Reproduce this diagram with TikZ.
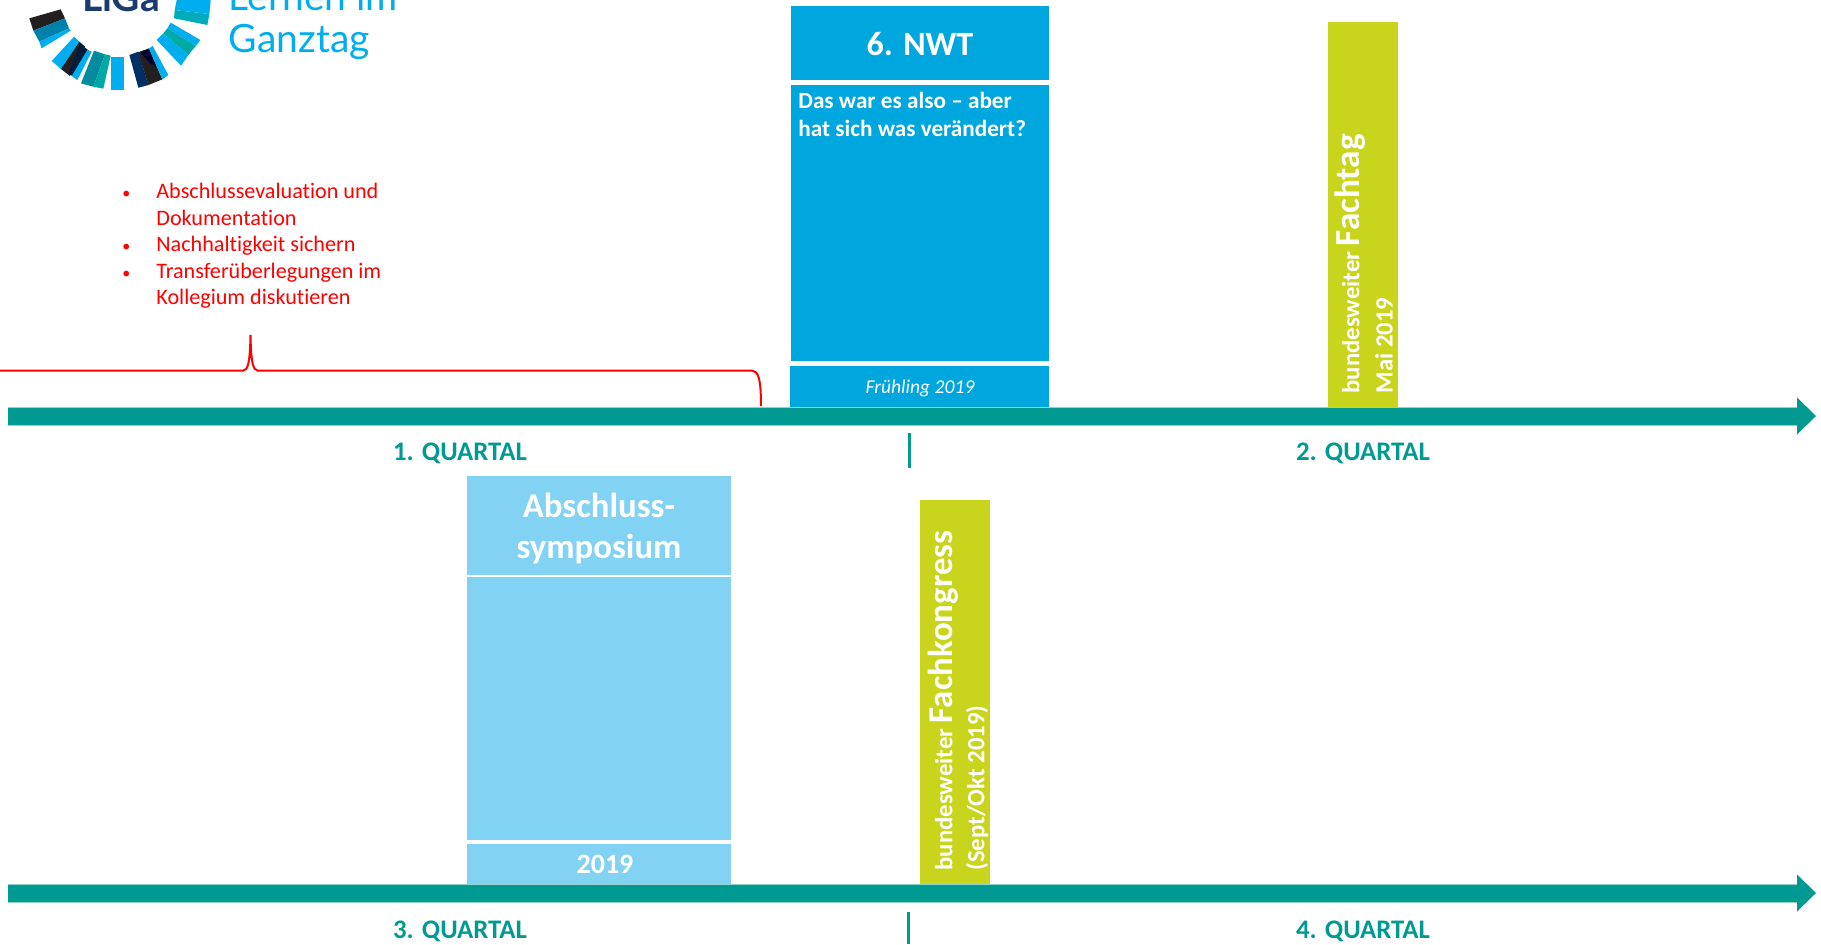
\documentclass[tikz,border=0pt]{standalone}
\usepackage{fontspec}
\setmainfont[Ligatures=NoCommon]{Carlito}
\newfontfamily\logofont{Lato}
\definecolor{nwtblue}{HTML}{00A6DE}
\definecolor{symblue}{HTML}{81D2F3}
\definecolor{lime}{HTML}{C9D41D}
\definecolor{teal2}{HTML}{009A93}
\definecolor{edge}{HTML}{8FD3CD}
\definecolor{logoblue}{HTML}{00AEEF}
\definecolor{navy}{HTML}{1B3A70}
\definecolor{ink}{HTML}{231F20}
\definecolor{midblue}{HTML}{0081AB}
\definecolor{logoteal}{HTML}{00A9A5}
\definecolor{deepnavy}{HTML}{002F66}
\definecolor{tealb}{HTML}{008C9E}
\newcommand{\sz}[2]{\fontsize{#1}{#2}\selectfont}
\tikzset{
  quartal/.style={text=teal2,font=\bfseries\sz{13.4}{15}},
  title/.style={text=white,font=\bfseries\sz{17}{20},align=center},
  sidetext/.style={text=white,rotate=90,anchor=west,inner sep=0,font=\bfseries\sz{12.4}{14}},
  tickline/.style={draw=teal2,line width=1.5pt},
  redline/.style={draw=red,line width=1pt},
  listtext/.style={text=red,anchor=base west,inner sep=0,font=\sz{11.07}{12}},
  bullet/.style={text=red,anchor=base west,inner sep=0,font=\sz{8}{12}},
}
\newcommand{\axisarrow}[2]{%
  \fill[teal2] (8,#1) -- (1797,#1) -- (1797,#1-9.5) -- (1816,#1+9) -- (1797,#1+27.5) -- (1797,#2) -- (8,#2) -- cycle;
  \draw[edge,line width=.35pt] (8,#1) -- (1797,#1) (8,#2) -- (1797,#2);
}
\begin{document}
\begin{tikzpicture}[x=.5pt,y=-.5pt]
\useasboundingbox (0,0) rectangle (1821,944);
\clip (0,0) rectangle (1821,944);
% logo
\begin{scope}[x=.1667pt,y=-.1667pt]
  \fill[ink] (88,55) -- (182,28) -- (195,55) -- (100,92) -- cycle;
  \fill[midblue] (100,92) -- (195,55) -- (207,85) -- (118,125) -- cycle;
  \fill[logoblue] (118,125) -- (207,85) -- (212,92) -- (125,145) -- cycle;
  \fill[logoblue] (155,183) -- (222,110) -- (238,125) -- (183,207) -- cycle;
  \fill[ink] (183,207) -- (238,125) -- (255,140) -- (210,228) -- cycle;
  \fill[deepnavy!60!black] (205,222) -- (240,130) -- (270,155) -- (218,228) -- cycle;
  \fill[logoblue] (215,228) -- (262,150) -- (275,155) -- (232,240) -- cycle;
  \fill[tealb] (243,250) -- (282,152) -- (315,163) -- (280,260) -- cycle;
  \fill[logoteal] (280,260) -- (315,163) -- (332,167) -- (310,266) -- cycle;
  \fill[logoblue] (333,170) -- (372,170) -- (372,270) -- (333,270) -- cycle;
  \fill[deepnavy] (388,165) -- (415,155) -- (445,255) -- (415,263) -- cycle;
  \fill[ink] (415,157) -- (447,145) -- (487,238) -- (445,255) -- cycle;
  \fill[black!80!blue] (420,155) -- (445,148) -- (468,200) -- (450,190) -- cycle;
  \fill[logoblue] (447,145) -- (458,138) -- (505,225) -- (487,238) -- cycle;
  \fill[logoblue] (470,120) -- (490,100) -- (565,165) -- (543,197) -- cycle;
  \fill[logoteal] (490,100) -- (502,85) -- (588,137) -- (565,165) -- cycle;
  \fill[logoblue] (502,85) -- (512,68) -- (601,120) -- (588,137) -- cycle;
  \fill[logoblue] (530,0) -- (632,0) -- (628,42) -- (524,30) -- cycle;
  \fill[logoteal!70!logoblue] (524,30) -- (628,42) -- (622,75) -- (522,55) -- cycle;
\end{scope}
\node[anchor=base,inner sep=0,text=navy,font=\logofont\bfseries\sz{19.5}{20}] (liga) at (121,11) {LiGa};
\node[anchor=base west,inner sep=0,text=logoblue,font=\logofont\sz{19.5}{22}] (lernen) at (228.5,10) {Lernen im};
\node[anchor=base west,inner sep=0,text=logoblue,font=\logofont\sz{19.5}{22}] (ganztag) at (228.5,52) {Ganztag};
% list
\node[bullet] (b1) at (122,198) {•};
\node[listtext] (l1) at (156,198) {Abschlussevaluation und};
\node[listtext] (l2) at (156,225) {Dokumentation};
\node[bullet] (b2) at (122,251) {•};
\node[listtext] (l3) at (156,251) {Nachhaltigkeit sichern};
\node[bullet] (b3) at (122,278) {•};
\node[listtext] (l4) at (156,278) {Transferüberlegungen im};
\node[listtext] (l5) at (156,304) {Kollegium diskutieren};
% brace
\draw[redline] (0,370.7) -- (243,370.7) .. controls (248,370.7) and (250,362) .. (250.5,335)
  .. controls (251,362) and (253,370.7) .. (258,370.7) -- (752,370.7)
  .. controls (758,370.7) and (761,378) .. (761,406);
% NWT
\fill[nwtblue] (791,6) rectangle (1049,80);
\fill[nwtblue] (791,85) rectangle (1049,361);
\fill[nwtblue] (790,366) rectangle (1049,407);
\node[title] (nwt) at (920,44) {6. NWT};
\node[anchor=north west,inner sep=0,align=left,text=white,font=\bfseries\sz{11.6}{14}] (nwtq) at (798,91.5) {Das war es also – aber\\hat sich was verändert?};
\node[text=white,font=\itshape\sz{9.8}{12}] (fr) at (920,388) {Frühling 2019};
% Fachtag
\fill[lime] (1328,22) rectangle (1398,407);
\node[sidetext] (ft1) at (1350,394) {bundesweiter {\sz{17.6}{18}Fachtag}};
\node[sidetext] (ft2) at (1384,394) {Mai 2019};
% Symposium
\fill[symblue] (467,476) rectangle (731,575);
\fill[symblue] (467,576.5) rectangle (731,840);
\fill[symblue] (467,844) rectangle (731,884);
\node[title,font=\bfseries\sz{17.4}{20.3}] (sym) at (599,528.5) {Abschluss-\\symposium};
\node[text=white,font=\bfseries\sz{14}{16}] (y19) at (605,864.5) {2019};
% Fachkongress
\fill[lime] (920,500) rectangle (990,884);
\node[sidetext] (fk1) at (943,871) {bundesweiter {\sz{17.4}{18}Fachkongress}};
\node[sidetext] (fk2) at (977,871) {(Sept/Okt 2019)};
% axes
\axisarrow{407}{425}
\axisarrow{884}{902}
\draw[tickline] (909,433) -- (909,468);
\draw[tickline] (908,912) -- (908,944);
\node[quartal] (q1) at (460,453) {1. QUARTAL};
\node[quartal] (q2) at (1363,453) {2. QUARTAL};
\node[quartal] (q3) at (460,931) {3. QUARTAL};
\node[quartal] (q4) at (1363,931) {4. QUARTAL};
\end{tikzpicture}
\end{document}
